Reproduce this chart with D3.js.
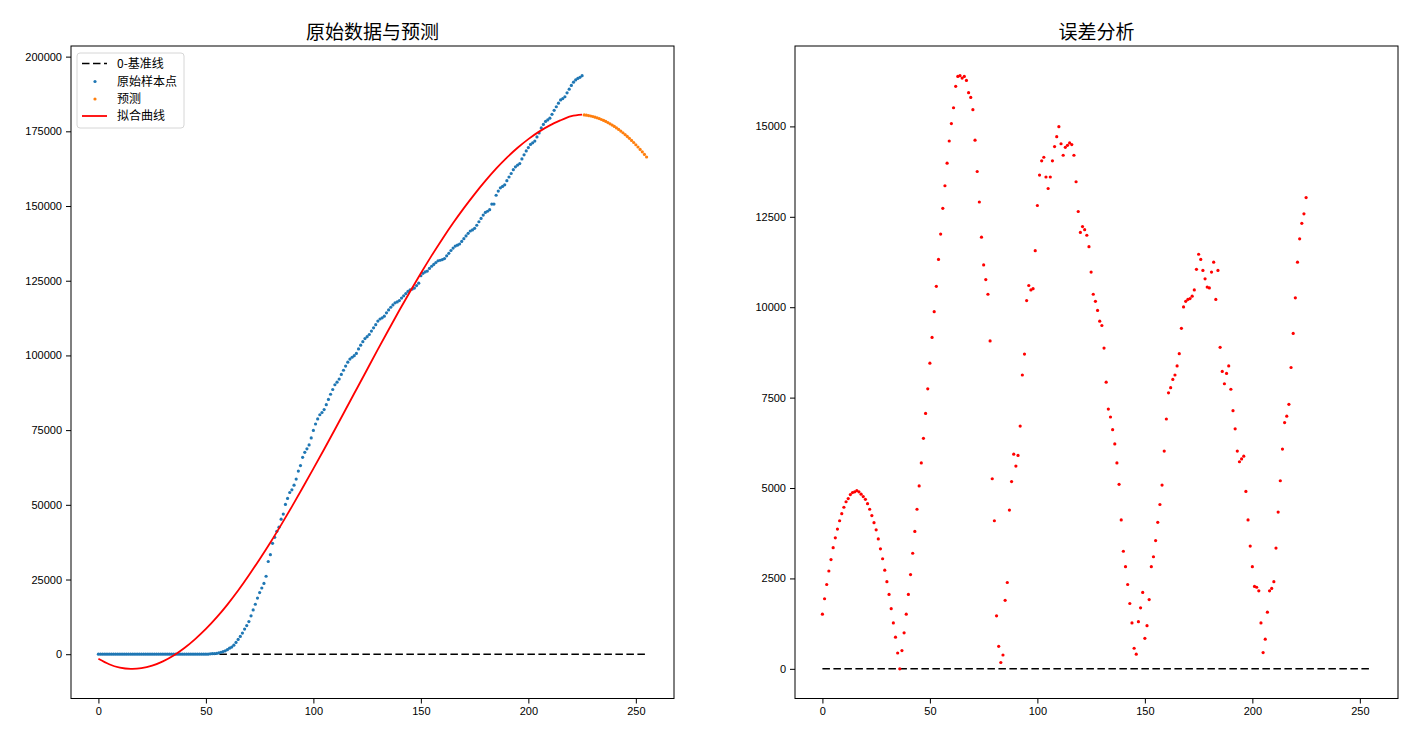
<!DOCTYPE html>
<html>
<head>
<meta charset="utf-8">
<script src="https://cdn.jsdelivr.net/npm/d3@7"></script>
<style>
  body { margin: 0; background: #fff; }
  .tick text { font-family: "Liberation Sans", Arial, sans-serif; font-size: 11px; fill: #000; }
  .title { font-family: "Noto Sans CJK SC", sans-serif; font-size: 19px; fill: #000; }
  .legend text { font-family: "Noto Sans CJK SC", sans-serif; font-size: 12px; fill: #000; }
</style>
</head>
<body>
<div id="chart"></div>
<script>
// x index of every sample (days 0..225) and of the prediction (226..255)
const sampleDays = d3.range(0, 226);
const predictDays = d3.range(226, 256);
const fitDays = d3.range(0, 226, 5);
const baselineDays = [0, 255];

// 原始样本点
const sampleValues = [
  0, 0, 0, 0, 0, 0, 0, 0, 0, 0, 0, 0, 0, 0, 0, 0, 0, 0, 0, 0, 0, 0, 0, 0, 0, 0,
  0, 0, 0, 0, 0, 0, 0, 0, 0, 0, 0, 0, 0, 0, 0, 0, 0, 0, 0, 0, 0, 0, 0, 0, 0, 0,
  115, 183, 209, 277, 425, 661, 897, 1144, 1522, 2024,
  2373, 3039, 3957, 4963, 5939, 7068, 8428, 9579, 10939, 12862,
  14807, 16730, 18784, 20631, 22156, 23681, 26093, 31024, 33305, 37113,
  39136, 41115, 42503, 45194, 46907, 50131, 52139, 54115, 55006, 56562,
  58632, 61305, 63145, 65884, 67580, 68739, 70052, 72383, 74912, 77055,
  78749, 80147, 80900, 81882, 83520, 85289, 87003, 88597, 90191, 91060,
  92082, 93641, 95036, 96442, 97738, 98782, 99389, 99907, 100667, 102171,
  103424, 104610, 105633, 106272, 106999, 108142, 109230, 110274, 111494, 112190,
  112568, 113143, 114244, 115214, 116120, 116894, 117603, 117917, 118352, 119185,
  119952, 120687, 121410, 121969, 122215, 122537, 123374, 124167, 126657, 127486,
  127944, 128215, 129121, 129852, 130468, 131096, 131679, 131857, 132091, 132428,
  133345, 134176, 135115, 135923, 136584, 136883, 137292, 138138, 139084, 140002,
  140876, 141641, 142011, 142535, 143558, 144744, 145854, 146964, 147866, 148248,
  148794, 150644, 150664, 153609, 155017, 156096, 156551, 157083, 158469, 159721,
  160884, 162157, 163113, 163696, 164200, 165754, 167123, 168425, 169575, 170622,
  171144, 171743, 173130, 174451, 176141, 177306, 178317, 178803, 179409, 180680,
  182016, 183221, 184437, 185511, 185966, 186575, 187873, 189095, 190360, 191446,
  192192, 192719, 193082, 193631
];

// 预测
const predictValues = [
  180500, 180406, 180284, 180134, 179956, 179750, 179516, 179254, 178964, 178646,
  178300, 177926, 177524, 177094, 176636, 176150, 175636, 175094, 174524, 173926,
  173300, 172646, 171964, 171254, 170516, 169750, 168956, 168134, 167284, 166406
];

// 拟合曲线 (read every 5 days)
const fitValues = [
  -1511, -3351, -4468, -4895, -4687, -3843, -2409, -438, 2059, 5059,
  8453, 12300, 16600, 21300, 26400, 31800, 37400, 43300, 49400, 55700,
  62100, 68600, 75200, 81900, 88600, 95300, 102000, 108600, 115100, 121400,
  127500, 133400, 139000, 144300, 149300, 154000, 158400, 162500, 166200, 169500,
  172400, 174900, 177000, 178700, 180100, 180600
];

// 误差
const errorValues = [
  1511, 1938, 2332, 2705, 3022, 3351, 3624, 3865, 4095, 4292,
  4468, 4621, 4709, 4818, 4873, 4895, 4928, 4895, 4829, 4763,
  4687, 4566, 4413, 4238, 4041, 3843, 3592, 3318, 3044, 2727,
  2409, 2059, 1664, 1270, 876, 438, 0,
  504, 996, 1511, 2059, 2606, 3197, 3800, 4413, 5059, 5694,
  6373, 7063, 7742, 8453, 9165, 9877, 10578, 11322, 12023, 12735,
  13359, 13983, 14596, 15078, 15516, 16107, 16381, 16403, 16337, 16381,
  16272, 15932, 15801, 15461, 14618, 13753, 12910, 11936, 11169, 10764,
  10359, 9067, 5256, 4095, 1467, 624, 175, 383, 1894, 2387,
  4391, 5179, 5935, 5606, 5902, 6712, 8125, 8705, 10184, 10600,
  10479, 10512, 11563, 12812, 13655, 14049, 14147, 13600, 13282, 13600,
  14049, 14443, 14717, 14991, 14520, 14202, 14421, 14476, 14542, 14498,
  14202, 13469, 12647, 12067, 12231, 12144, 11990, 11673, 10972, 10359,
  10162, 9910, 9614, 9494, 8870,
  7928, 7183, 6964, 6614, 6220, 5694, 5103, 4117, 3252, 2825,
  2332, 1807, 1270, 569, 405, 1303, 1686, 2113, 843, 1194,
  1916, 2825, 3099, 3548, 4052, 4544, 5081, 6023, 6909, 7632,
  7775, 8004, 8125, 8377, 8716, 9417, 10008, 10162, 10216, 10238,
  10304, 10479, 11049, 11465, 11322, 11016, 10786, 10556, 10534, 10972,
  11246, 10216, 11016, 8891, 8223, 7884, 8169, 8377, 7731, 7139,
  6636, 6023, 5727, 5804, 5880, 4906, 4117, 3395, 2825, 2278,
  2256, 2157, 1270, 449, 821, 1566, 2157, 2223, 2409, 3340,
  4336, 5201, 6077, 6811, 6986, 7315, 8333, 9275, 10260, 11246,
  11892, 12319, 12582, 13031
];

const xTicks = [0, 50, 100, 150, 200, 250];
const leftYTicks = [0, 25000, 50000, 75000, 100000, 125000, 150000, 175000, 200000];
const rightYTicks = [0, 2500, 5000, 7500, 10000, 12500, 15000];

const legendLabels = ['0-基准线', '原始样本点', '预测', '拟合曲线'];

const width = 1419;
const height = 743;

const svg = d3.select('#chart').append('svg')
  .attr('width', width)
  .attr('height', height);

function makePanel(left, right, yMin, yMax, yTicks, title) {
  const top = 46;
  const bottom = 698.5;
  const x = d3.scaleLinear().domain([-12.75, 267.75]).range([left, right]);
  const pad = (yMax - yMin) * 0.05;
  const y = d3.scaleLinear().domain([yMin - pad, yMax + pad]).range([bottom, top]);
  const g = svg.append('g');

  g.append('g')
    .attr('transform', `translate(0,${bottom})`)
    .call(d3.axisBottom(x).tickValues(xTicks).tickSize(5).tickPadding(4).tickFormat(d3.format('d')))
    .call(a => a.select('.domain').remove());

  g.append('g')
    .attr('transform', `translate(${left},0)`)
    .call(d3.axisLeft(y).tickValues(yTicks).tickSize(5).tickPadding(4).tickFormat(d3.format('d')))
    .call(a => a.select('.domain').remove());

  g.selectAll('.tick line').attr('stroke', '#000').attr('stroke-width', 1);

  g.append('text')
    .attr('class', 'title')
    .attr('x', (left + right) / 2)
    .attr('y', top - 7)
    .attr('text-anchor', 'middle')
    .text(title);

  const plot = g.append('g');

  g.append('rect')
    .attr('x', left)
    .attr('y', top)
    .attr('width', right - left)
    .attr('height', bottom - top)
    .attr('fill', 'none')
    .attr('stroke', '#000')
    .attr('stroke-width', 1);

  return { x, y, plot };
}

function baseline(p) {
  p.plot.append('path')
    .attr('d', d3.line().x(d => p.x(d)).y(() => p.y(0))(baselineDays))
    .attr('fill', 'none')
    .attr('stroke', '#000')
    .attr('stroke-width', 1.5)
    .attr('stroke-dasharray', '7.5,3.5');
}

function dots(p, days, values, color, r) {
  p.plot.append('g')
    .selectAll('circle')
    .data(days)
    .enter()
    .append('circle')
    .attr('cx', d => p.x(d))
    .attr('cy', (d, i) => p.y(values[i]))
    .attr('r', r)
    .attr('fill', color);
}

// left: 原始数据与预测
const leftPanel = makePanel(71, 674,
  d3.min(fitValues), d3.max(sampleValues), leftYTicks, '原始数据与预测');
baseline(leftPanel);
dots(leftPanel, sampleDays, sampleValues, '#1f77b4', 1.6);
dots(leftPanel, predictDays, predictValues, '#ff7f0e', 1.6);
leftPanel.plot.append('path')
  .attr('d', d3.line()
    .x(d => leftPanel.x(d))
    .y((d, i) => leftPanel.y(fitValues[i]))
    .curve(d3.curveNatural)(fitDays))
  .attr('fill', 'none')
  .attr('stroke', '#ff0000')
  .attr('stroke-width', 1.8);

// legend
const legend = svg.append('g').attr('class', 'legend').attr('transform', 'translate(77,53)');
legend.append('rect')
  .attr('width', 107)
  .attr('height', 75)
  .attr('rx', 3)
  .attr('fill', '#fff')
  .attr('fill-opacity', 0.8)
  .attr('stroke', '#d6d6d6');
const rowY = [10.5, 28.5, 46, 63];
legend.append('line')
  .attr('x1', 5).attr('x2', 30).attr('y1', rowY[0]).attr('y2', rowY[0])
  .attr('stroke', '#000').attr('stroke-width', 1.5).attr('stroke-dasharray', '7.5,3.5');
legend.append('circle').attr('cx', 18).attr('cy', rowY[1]).attr('r', 1.6).attr('fill', '#1f77b4');
legend.append('circle').attr('cx', 18).attr('cy', rowY[2]).attr('r', 1.6).attr('fill', '#ff7f0e');
legend.append('line')
  .attr('x1', 5).attr('x2', 30).attr('y1', rowY[3]).attr('y2', rowY[3])
  .attr('stroke', '#ff0000').attr('stroke-width', 1.8);
legend.selectAll('text')
  .data(legendLabels)
  .enter()
  .append('text')
  .attr('x', 40)
  .attr('y', (d, i) => rowY[i])
  .attr('dy', '0.35em')
  .text(d => d);

// right: 误差分析
const rightPanel = makePanel(795, 1398,
  0, d3.max(errorValues), rightYTicks, '误差分析');
baseline(rightPanel);
dots(rightPanel, sampleDays, errorValues, '#ff0000', 1.6);
</script>
</body>
</html>
